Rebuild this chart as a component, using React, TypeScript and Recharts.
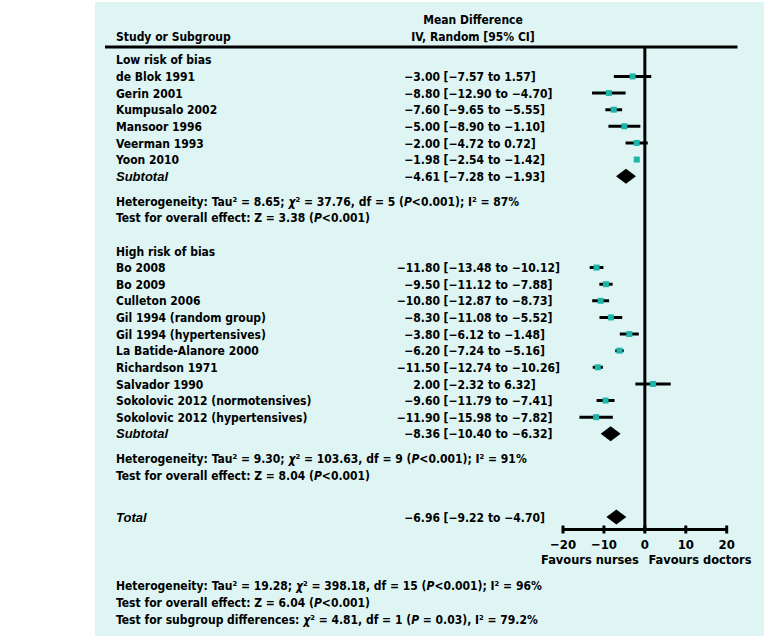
import React from "react";
import { ComposedChart, Bar, XAxis, YAxis, ReferenceLine } from "recharts";

// low risk of bias studies
const lowStudies = ["de Blok 1991", "Gerin 2001", "Kumpusalo 2002", "Mansoor 1996", "Veerman 1993", "Yoon 2010"];
const lowMd = [-3.0, -8.8, -7.6, -5.0, -2.0, -1.98];
const lowLo = [-7.57, -12.9, -9.65, -8.9, -4.72, -2.54];
const lowHi = [1.57, -4.7, -5.55, -1.1, 0.72, -1.42];

// high risk of bias studies
const highStudies = [
  "Bo 2008",
  "Bo 2009",
  "Culleton 2006",
  "Gil 1994 (random group)",
  "Gil 1994 (hypertensives)",
  "La Batide-Alanore 2000",
  "Richardson 1971",
  "Salvador 1990",
  "Sokolovic 2012 (normotensives)",
  "Sokolovic 2012 (hypertensives)",
];
const highMd = [-11.8, -9.5, -10.8, -8.3, -3.8, -6.2, -11.5, 2.0, -9.6, -11.9];
const highLo = [-13.48, -11.12, -12.87, -11.08, -6.12, -7.24, -12.74, -2.32, -11.79, -15.98];
const highHi = [-10.12, -7.88, -8.73, -5.52, -1.48, -5.16, -10.26, 6.32, -7.41, -7.82];

// pooled: low subtotal, high subtotal, total
const pooledMd = [-4.61, -8.36, -6.96];
const pooledLo = [-7.28, -10.4, -9.22];
const pooledHi = [-1.93, -6.32, -4.7];

// heterogeneity stats: low, high, overall
const hetTau = ["8.65", "9.30", "19.28"];
const hetChi = ["37.76", "103.63", "398.18"];
const hetDf = ["5", "9", "15"];
const hetI2 = ["87%", "91%", "96%"];
const effectZ = ["3.38", "8.04", "6.04"];

const xTicks = [-20, -10, 0, 10, 20];

const FONT = "'Liberation Sans Narrow', 'DejaVu Sans Condensed', Arial, sans-serif";
const ITALIC_FONT = "'Liberation Sans', Arial, sans-serif";
const TEAL = "#1db5a9";
const BG = "#def5f4";
const LABEL_X = 116;
const EST_X = 440;
const CI_X = 443.5;

const fmt = (v: number) => v.toFixed(2).replace("-", "\u2212");
const fmtTick = (v: number) => String(v).replace("-", "\u2212");

type Row = {
  id: string;
  kind: "spacer" | "heading" | "study" | "subtotal" | "total" | "het" | "effect";
  label?: string;
  md?: number;
  lo?: number;
  hi?: number;
  idx?: number;
  range?: [number, number] | null;
};

const rows: Row[] = [];
let n = 0;
const spacer = (k: number) => {
  for (let i = 0; i < k; i++) rows.push({ id: `sp${n++}`, kind: "spacer", range: null });
};
const add = (r: Omit<Row, "id">) =>
  rows.push({ id: `r${n++}`, range: r.md != null ? [r.lo as number, r.hi as number] : null, ...r });

spacer(1);
add({ kind: "heading", label: "Low risk of bias" });
lowStudies.forEach((s, i) => {
  spacer(1);
  add({ kind: "study", label: s, md: lowMd[i], lo: lowLo[i], hi: lowHi[i] });
});
spacer(1);
add({ kind: "subtotal", label: "Subtotal", md: pooledMd[0], lo: pooledLo[0], hi: pooledHi[0] });
spacer(2);
add({ kind: "het", idx: 0 });
spacer(1);
add({ kind: "effect", idx: 0 });
spacer(3);
add({ kind: "heading", label: "High risk of bias" });
highStudies.forEach((s, i) => {
  spacer(1);
  add({ kind: "study", label: s, md: highMd[i], lo: highLo[i], hi: highHi[i] });
});
spacer(1);
add({ kind: "subtotal", label: "Subtotal", md: pooledMd[1], lo: pooledLo[1], hi: pooledHi[1] });
spacer(2);
add({ kind: "het", idx: 1 });
spacer(1);
add({ kind: "effect", idx: 1 });
spacer(4);
add({ kind: "total", label: "Total", md: pooledMd[2], lo: pooledLo[2], hi: pooledHi[2] });
spacer(1);

const rowById: Record<string, Row> = {};
rows.forEach((r) => (rowById[r.id] = r));

const Het = ({ i }: { i: number }) => (
  <>
    Heterogeneity: Tau² = {hetTau[i]}; <tspan fontStyle="italic">χ</tspan>² = {hetChi[i]}, df = {hetDf[i]} (
    <tspan fontStyle="italic">P</tspan>&lt;0.001); I² = {hetI2[i]}
  </>
);
const Effect = ({ i }: { i: number }) => (
  <>
    Test for overall effect: Z = {effectZ[i]} (<tspan fontStyle="italic">P</tspan>&lt;0.001)
  </>
);

const RowTick = (props: any) => {
  const r = rowById[props.payload?.value];
  if (!r || r.kind === "spacer") return null;
  const by = props.y + 4.5;
  if (r.kind === "het")
    return (
      <text x={LABEL_X} y={by}>
        <Het i={r.idx as number} />
      </text>
    );
  if (r.kind === "effect")
    return (
      <text x={LABEL_X} y={by}>
        <Effect i={r.idx as number} />
      </text>
    );
  const italic = r.kind === "subtotal" || r.kind === "total";
  return (
    <g>
      <text
        x={LABEL_X}
        y={by}
        fontStyle={italic ? "italic" : "normal"}
        fontFamily={italic ? ITALIC_FONT : FONT}
        fontSize={italic ? 13 : 12}
      >
        {r.label}
      </text>
      {r.md != null && (
        <>
          <text x={EST_X} y={by} textAnchor="end">
            {fmt(r.md)}
          </text>
          <text x={CI_X} y={by}>
            [{fmt(r.lo as number)} to {fmt(r.hi as number)}]
          </text>
        </>
      )}
    </g>
  );
};

const AxisTick = (props: any) => {
  const { x, y, payload } = props;
  return (
    <g>
      <line x1={x} x2={x} y1={y - 4} y2={y + 4} stroke="#000" strokeWidth={3} />
      <text x={x} y={y + 19.5} textAnchor="middle" fontSize={13}>
        {fmtTick(payload.value)}
      </text>
    </g>
  );
};

const ForestMark = (p: any) => {
  const r = p.payload as Row;
  if (!r || r.md == null) return null;
  const left = Math.min(p.x, p.x + p.width);
  const w = Math.abs(p.width);
  const cy = p.y + p.height / 2;
  const cx = left + (w * (r.md - (r.lo as number))) / ((r.hi as number) - (r.lo as number));
  if (r.kind === "study") {
    return (
      <g>
        <line x1={left} x2={left + w} y1={cy} y2={cy} stroke="#000" strokeWidth={3} />
        <rect x={cx - 3} y={cy - 3} width={6} height={6} fill={TEAL} />
      </g>
    );
  }
  return <polygon points={`${cx - 10},${cy} ${cx},${cy - 7.5} ${cx + 10},${cy} ${cx},${cy + 7.5}`} fill="#000" />;
};

export default function App() {
  return (
    <div
      style={{
        position: "absolute",
        left: 0,
        top: 0,
        width: 764,
        height: 638,
        background: "#fff",
        fontFamily: FONT,
        fontWeight: "bold",
        fontSize: 12,
      }}
    >
      <div style={{ position: "absolute", left: 95, top: 2, width: 669, height: 634, background: BG }} />
      <div style={{ position: "absolute", left: 0, top: 0 }}>
        <ComposedChart
          width={764}
          height={638}
          data={rows}
          layout="vertical"
          margin={{ top: 47.5, right: 37.3, bottom: 78.5, left: 0 }}
          barCategoryGap={0}
          style={{ fontSize: 12 }}
        >
          <XAxis
            type="number"
            domain={[-20, 20]}
            ticks={xTicks}
            allowDataOverflow
            height={30}
            interval={0}
            tickSize={0}
            tickMargin={0}
            tickLine={false}
            axisLine={{ stroke: "#000", strokeWidth: 3 }}
            tick={(p: any) => <AxisTick {...p} />}
          />
          <YAxis
            type="category"
            dataKey="id"
            width={563}
            interval={0}
            axisLine={false}
            tickLine={false}
            tick={(p: any) => <RowTick {...p} />}
          />
          <ReferenceLine x={0} stroke="#000" strokeWidth={3} />
          <Bar dataKey="range" barSize={8} isAnimationActive={false} shape={(p: any) => <ForestMark {...p} />} />
        </ComposedChart>
      </div>
      <svg
        width={764}
        height={638}
        style={{ position: "absolute", left: 0, top: 0, pointerEvents: "none" }}
        fontFamily={FONT}
        fontWeight="bold"
        fontSize={12}
      >
        <line x1={105} x2={737.5} y1={47} y2={47} stroke="#000" strokeWidth={3} />
        <text x={473} y={23.5} textAnchor="middle">
          Mean Difference
        </text>
        <text x={473} y={40.5} textAnchor="middle">
          IV, Random [95% CI]
        </text>
        <text x={LABEL_X} y={40.5}>
          Study or Subgroup
        </text>
        <text x={590} y={564} textAnchor="middle" fontSize={12.7}>
          Favours nurses
        </text>
        <text x={700} y={564} textAnchor="middle" fontSize={12.7}>
          Favours doctors
        </text>
        <text x={LABEL_X} y={589.5}>
          <Het i={2} />
        </text>
        <text x={LABEL_X} y={606.5}>
          <Effect i={2} />
        </text>
        <text x={LABEL_X} y={623.5}>
          Test for subgroup differences: <tspan fontStyle="italic">χ</tspan>² = 4.81, df = 1 (
          <tspan fontStyle="italic">P</tspan> = 0.03), I² = 79.2%
        </text>
      </svg>
    </div>
  );
}
